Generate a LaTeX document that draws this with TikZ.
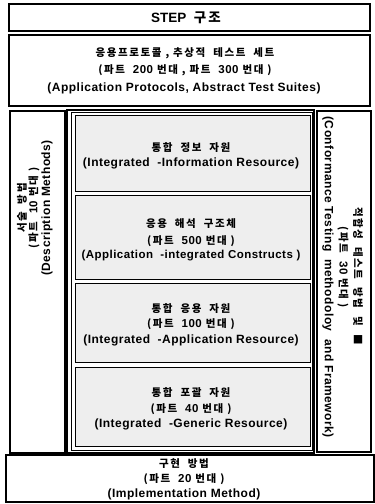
\documentclass[tikz,border=0pt]{standalone}
\usepackage{fontspec}
\setmainfont{Liberation Sans}
\newfontfamily\kr{Noto Sans CJK KR}[LetterSpace=15]
\newfontfamily\en{Liberation Sans}[LetterSpace=4]
\newcommand{\nm}[1]{{\en\fontsize{11.5}{12}\selectfont\bfseries #1}}
\begin{document}
\begin{tikzpicture}[x=1pt,y=-1pt,
  box/.style={draw, line width=1.3pt},
  thinbox/.style={draw, line width=0.7pt},
  gbox/.style={draw, line width=0.9pt, fill=gray!13},
  en/.style={inner sep=0pt, font=\en\fontsize{12}{13}\selectfont\bfseries},
  ko/.style={inner sep=0pt, font=\kr\fontsize{10.5}{12}\selectfont\bfseries}]
\useasboundingbox (0,0) rectangle (375,504);
% frames
\draw[box] (9,4) rectangle (370,31);
\draw[box] (9,35) rectangle (370,106);
\draw[box] (10,111) rectangle (65,453);
\draw[box] (67,110) rectangle (314,453);
\draw[thinbox] (71,112) rectangle (312,450);
\draw[gbox] (75,115) rectangle (310,191);
\draw[gbox] (75,195) rectangle (310,279);
\draw[gbox] (75,283) rectangle (310,362);
\draw[gbox] (75,367) rectangle (310,446);
\draw[box] (317,111) rectangle (371,452);
\draw[line width=2.2pt] (371,110) -- (371,453);
\draw[box] (6,455) rectangle (374,502);
% title
\node[inner sep=0pt, font=\fontsize{13.5}{15}\selectfont\bfseries] (title) at (186,18) {STEP \ {\kr\bfseries 구조}};
% AP
\node[ko] (ap1) at (185,53) {응용프로토콜 , 추상적 \ 테스트 \ 세트};
\node[ko] (ap2) at (185,70) {(파트 \ \nm{200} 번대 , 파트 \ \nm{300} 번대 )};
\node[en] (ap3) at (184,88) {(Application Protocols, Abstract Test Suites)};
% boxes
\node[ko] (b1a) at (191,148) {통합 \ 정보 \ 자원};
\node[en] (b1b) at (191,163) {(Integrated \ -Information Resource)};
\node[ko] (b2a) at (191,224) {응용 \ 해석 \ 구조체};
\node[ko] (b2b) at (191,241) {(파트 \ \nm{500} 번대 )};
\node[en, font=\en\fontsize{11.5}{13}\selectfont\bfseries] (b2c) at (191,256) {(Application \ -integrated Constructs )};
\node[ko] (b3a) at (191,309) {통합 \ 응용 \ 자원};
\node[ko] (b3b) at (191,324) {(파트 \ \nm{100} 번대 )};
\node[en] (b3c) at (191,340) {(Integrated \ -Application Resource)};
\node[ko] (b4a) at (191,393) {통합 \ 포괄 \ 자원};
\node[ko] (b4b) at (191,409) {(파트 \ \nm{40} 번대 )};
\node[en] (b4c) at (191,424) {(Integrated \ -Generic Resource)};
% left
\node[ko, rotate=90] (l1) at (22,208) {서술 \ 방법};
\node[ko, rotate=90] (l2) at (34,208) {(파트 \ \nm{10} 번대 )};
\node[en, rotate=90] (l3) at (47,208) {(Description Methods)};
% right
\node[en, rotate=-90] (r1) at (328,277) {(Conformance Testing \ methodoloy \ and Framework)};
\node[ko, rotate=-90] (r2) at (343,267) {(파트 \ \nm{30} 번대 )};
\node[ko, rotate=-90] (r3) at (358,276) {적합성 \ 테스트 \ 방법 \ 및 \ ■};
% bottom
\node[ko] (i1) at (184,464) {구현 \ 방법};
\node[ko] (i2) at (184,479) {(파트 \ \nm{20} 번대 )};
\node[en] (i3) at (184,494) {(Implementation Method)};
\end{tikzpicture}
\end{document}
